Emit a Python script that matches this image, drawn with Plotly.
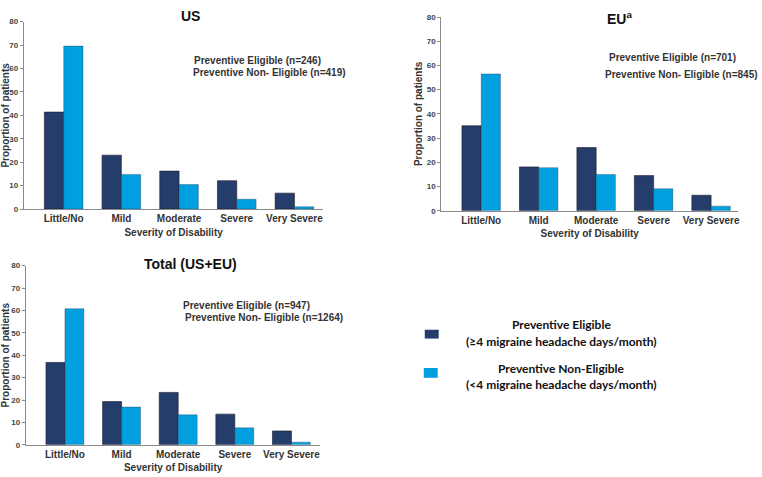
import plotly.graph_objects as go

categories = ["Little/No", "Mild", "Moderate", "Severe", "Very Severe"]
us_eligible = [41.4, 23.0, 16.2, 12.1, 6.8]
us_non_eligible = [69.6, 14.8, 10.5, 4.2, 1.0]
eu_eligible = [35.1, 18.1, 26.1, 14.5, 6.4]
eu_non_eligible = [56.5, 17.8, 15.0, 9.1, 1.9]
tot_eligible = [36.8, 19.3, 23.4, 13.7, 6.2]
tot_non_eligible = [60.8, 16.9, 13.4, 7.6, 1.2]
y_ticks = [0, 10, 20, 30, 40, 50, 60, 70, 80]

DARK = "#253d6b"
LIGHT = "#00a0e0"
W, H = 762, 477

def px(x):
    return x / W

def py(y):
    return (H - y) / H

fig = go.Figure()
xpos = list(range(len(categories)))
panels = [
    ("x", "y", us_eligible, us_non_eligible),
    ("x2", "y2", eu_eligible, eu_non_eligible),
    ("x3", "y3", tot_eligible, tot_non_eligible),
]
for xa, ya, e, n in panels:
    fig.add_trace(go.Bar(x=xpos, y=e, xaxis=xa, yaxis=ya, marker=dict(color=DARK, line=dict(color="#1a1a2a", width=0.6)),
                         name="Preventive Eligible", showlegend=False, offsetgroup="a"))
    fig.add_trace(go.Bar(x=xpos, y=n, xaxis=xa, yaxis=ya, marker=dict(color=LIGHT, line=dict(color="#1a1a2a", width=0.3)),
                         name="Preventive Non-Eligible", showlegend=False, offsetgroup="b"))

tickfont_y = dict(family="Liberation Sans, Arial", size=8, color="#444444")
tickfont_x = dict(family="Liberation Sans, Arial", size=10, color="#333333")
titlefont = dict(family="Liberation Sans, Arial", size=10, color="#333333")

def xaxis(domain, rng, anchor):
    return dict(domain=domain, range=rng, anchor=anchor, tickvals=xpos,
                ticktext=["<b>%s</b>" % c for c in categories], tickfont=tickfont_x,
                showline=True, linecolor="#8a8a8a", linewidth=1.2, ticks="", showgrid=False,
                zeroline=False, title=dict(text="<b>Severity of Disability</b>", font=titlefont, standoff=5))

def yaxis(domain, anchor):
    return dict(domain=domain, range=[0, 80], anchor=anchor, tickvals=y_ticks,
                ticktext=["<b>%d</b>" % t for t in y_ticks], tickfont=tickfont_y,
                showline=True, linecolor="#8a8a8a", linewidth=1.2, ticks="outside", ticklen=3,
                tickcolor="#8a8a8a", showgrid=False, zeroline=False,
                title=dict(text="<b>Proportion of patients</b>", font=titlefont, standoff=2))

fig.update_layout(
    width=W, height=H, margin=dict(l=0, r=0, t=0, b=0),
    paper_bgcolor="white", plot_bgcolor="white",
    barmode="group", bargap=0.33, bargroupgap=0,
    xaxis=xaxis([px(22), px(323)], [-0.69, 4.5], "y"),
    yaxis=yaxis([py(209), py(18)], "x"),
    xaxis2=xaxis([px(441.7), px(740)], [-0.693, 4.47], "y2"),
    yaxis2=yaxis([py(210.7), py(13.3)], "x2"),
    xaxis3=xaxis([px(24), px(320)], [-0.69, 4.51], "y3"),
    yaxis3=yaxis([py(449.3), py(266.7)], "x3"),
    showlegend=False,
)

ann_font = dict(family="Liberation Sans, Arial", size=10, color="#333333")
title_font = dict(family="Liberation Sans, Arial", size=14, color="#111111")

annotations = [
    dict(text="<b>US</b>", x=px(189), y=py(12), font=title_font, xanchor="center", yanchor="middle"),
    dict(text="<b>EU<sup>a</sup></b>", x=px(621), y=py(14), font=title_font, xanchor="center", yanchor="middle"),
    dict(text="<b>Total (US+EU)</b>", x=px(189), y=py(265), font=title_font, xanchor="center", yanchor="middle"),
    dict(text="<b>Preventive Eligible (n=246)</b>", x=px(191), y=py(58), font=ann_font, xanchor="left", yanchor="middle"),
    dict(text="<b>Preventive Non- Eligible (n=419)</b>", x=px(190), y=py(70), font=ann_font, xanchor="left", yanchor="middle"),
    dict(text="<b>Preventive Eligible (n=701)</b>", x=px(608), y=py(55), font=ann_font, xanchor="left", yanchor="middle"),
    dict(text="<b>Preventive Non- Eligible (n=845)</b>", x=px(604), y=py(72), font=ann_font, xanchor="left", yanchor="middle"),
    dict(text="<b>Preventive Eligible (n=947)</b>", x=px(180), y=py(307), font=ann_font, xanchor="left", yanchor="middle"),
    dict(text="<b>Preventive Non- Eligible (n=1264)</b>", x=px(182), y=py(320), font=ann_font, xanchor="left", yanchor="middle"),
]
leg_font = dict(family="Lato, Open Sans", size=12, color="#111111")
annotations += [
    dict(text="<b>Preventive Eligible</b>", x=px(562), y=py(327), font=leg_font, xanchor="center", yanchor="middle"),
    dict(text="<b>(\u22654 migraine headache days/month)</b>", x=px(562), y=py(344), font=leg_font, xanchor="center", yanchor="middle"),
    dict(text="<b>Preventive Non-Eligible</b>", x=px(562), y=py(371), font=leg_font, xanchor="center", yanchor="middle"),
    dict(text="<b>(<4 migraine headache days/month)</b>", x=px(562), y=py(388), font=leg_font, xanchor="center", yanchor="middle"),
]
for a in annotations:
    a.update(xref="paper", yref="paper", showarrow=False)
fig.update_layout(annotations=annotations)

fig.add_shape(type="rect", xref="paper", yref="paper", x0=px(425), x1=px(439), y0=py(341), y1=py(332),
              fillcolor=DARK, line=dict(width=0))
fig.add_shape(type="rect", xref="paper", yref="paper", x0=px(424), x1=px(438), y0=py(381), y1=py(371),
              fillcolor=LIGHT, line=dict(width=0))

fig.write_html("out.html", config={"displayModeBar": False},
               post_script="document.body.style.margin='0px';document.body.style.overflow='hidden';")
